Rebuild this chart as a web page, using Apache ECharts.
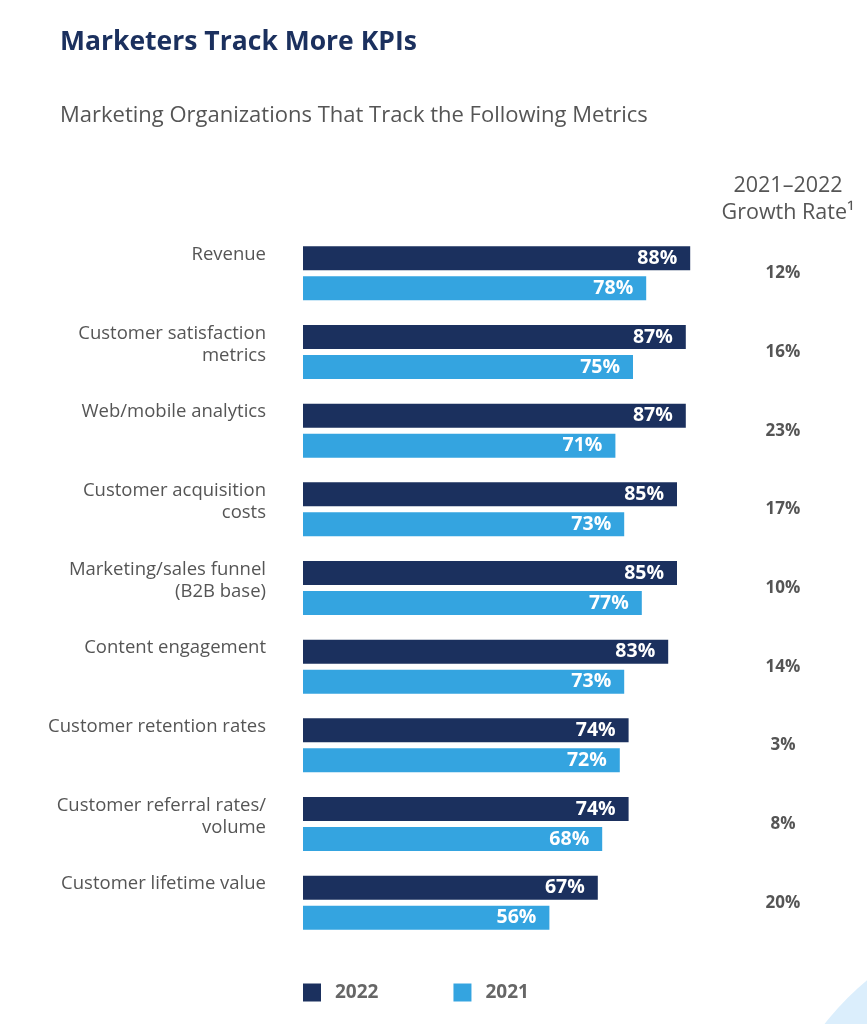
<!DOCTYPE html>
<html>
<head>
<meta charset="utf-8">
<script src="https://cdn.jsdelivr.net/npm/echarts@6/dist/echarts.min.js"></script>
<style>
html,body{margin:0;padding:0;background:#fff;}
#chart{width:867px;height:1024px;}
</style>
</head>
<body>
<div id="chart"></div>
<script>
const categories = [
  "Revenue",
  "Customer satisfaction\nmetrics",
  "Web/mobile analytics",
  "Customer acquisition\ncosts",
  "Marketing/sales funnel\n(B2B base)",
  "Content engagement",
  "Customer retention rates",
  "Customer referral rates/\nvolume",
  "Customer lifetime value"
];
const values2022 = [88, 87, 87, 85, 85, 83, 74, 74, 67];
const values2021 = [78, 75, 71, 73, 77, 73, 72, 68, 56];
const growthRates = ["12%", "16%", "23%", "17%", "10%", "14%", "3%", "8%", "20%"];
const seriesNames = ["2022", "2021"];

const FONT = "Open Sans, Lato, sans-serif";
const NAVY = "#1b305e";
const BLUE = "#34a4e0";
const GRAY = "#555555";

const chart = echarts.init(document.getElementById('chart'));
chart.setOption({
  backgroundColor: '#ffffff',
  animation: false,
  title: [
    { text: 'Marketers Track More KPIs', left: 55, top: 24,
      textStyle: { fontFamily: FONT, fontSize: 26.5, fontWeight: 'bold', color: NAVY } },
    { text: 'Marketing Organizations That Track the Following Metrics', left: 55, top: 100,
      textStyle: { fontFamily: FONT, fontSize: 22, fontWeight: 'normal', color: GRAY } },
    { text: '2021–2022\nGrowth Rate¹', left: 783, top: 167, textAlign: 'center',
      textStyle: { fontFamily: FONT, fontSize: 21.5, fontWeight: 'normal', color: GRAY, lineHeight: 27, align: 'center' } }
  ],
  graphic: [
    { type: 'circle', shape: { cx: 1050, cy: 1200, r: 286 }, style: { fill: '#dbeefc' }, silent: true, z: -10 }
  ],
  legend: {
    left: 298, top: 978, itemWidth: 18, itemHeight: 18, itemGap: 75,
    icon: 'rect',
    data: seriesNames,
    textStyle: { fontFamily: FONT, fontSize: 19, fontWeight: 'bold', color: '#666', padding: [0, 0, 0, 9] }
  },
  grid: { left: 303, width: 440, top: 234, height: 708, containLabel: false },
  xAxis: { type: 'value', min: 0, max: 100, show: false },
  yAxis: [
    {
      type: 'category', inverse: true, data: categories,
      axisLine: { show: false }, axisTick: { show: false },
      axisLabel: {
        margin: 37, align: 'right', verticalAlign: 'middle',
        fontFamily: FONT, fontSize: 18.5, color: GRAY, lineHeight: 22,
        formatter: v => (v.indexOf('\n') >= 0 ? v : v + '\n ') + '\n{sp| }',
        rich: { sp: { fontSize: 2, lineHeight: 15, height: 15 } }
      }
    },
    {
      type: 'category', inverse: true, position: 'right', data: growthRates,
      axisLine: { show: false }, axisTick: { show: false },
      axisLabel: {
        margin: 40, align: 'center', verticalAlign: 'middle',
        fontFamily: FONT, fontSize: 17, fontWeight: 'bold', color: GRAY
      }
    }
  ],
  series: [
    {
      name: seriesNames[0], type: 'bar', data: values2022, yAxisIndex: 0,
      barWidth: 24, barGap: '25%',
      itemStyle: { color: NAVY },
      label: { show: true, position: 'insideRight', distance: 13, formatter: '{c}%',
        fontFamily: FONT, fontSize: 19.5, fontWeight: 'bold', color: '#fff' }
    },
    {
      name: seriesNames[1], type: 'bar', data: values2021, yAxisIndex: 0,
      barWidth: 24, barGap: '25%',
      itemStyle: { color: BLUE },
      label: { show: true, position: 'insideRight', distance: 13, formatter: '{c}%',
        fontFamily: FONT, fontSize: 19.5, fontWeight: 'bold', color: '#fff' }
    }
  ]
});
</script>
</body>
</html>
